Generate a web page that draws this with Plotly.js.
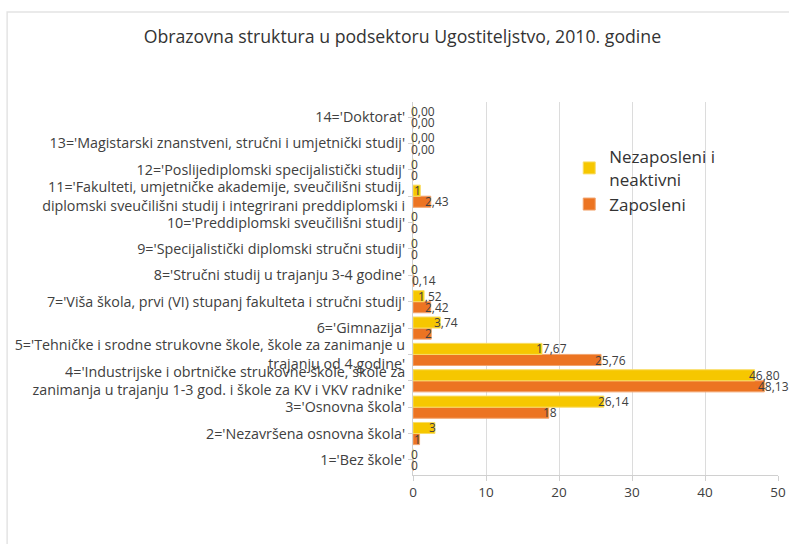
<!DOCTYPE html>
<html>
<head>
<meta charset="utf-8">
<script src="https://cdn.plot.ly/plotly-3.0.1.min.js"></script>
<style>html,body{margin:0;padding:0;background:#fff;}#chart{width:789px;height:544px;}</style>
</head>
<body>
<div id="chart"></div>
<script>
const categories = [
  "1='Bez škole'",
  "2='Nezavršena osnovna škola'",
  "3='Osnovna škola'",
  "4='Industrijske i obrtničke strukovne škole, škole za<br>zanimanja u trajanju 1-3 god. i škole za KV i VKV radnike'",
  "5='Tehničke i srodne strukovne škole, škole za zanimanje u<br>trajanju od 4 godine'",
  "6='Gimnazija'",
  "7='Viša škola, prvi (VI) stupanj fakulteta i stručni studij'",
  "8='Stručni studij u trajanju 3-4 godine'",
  "9='Specijalistički diplomski stručni studij'",
  "10='Preddiplomski sveučilišni studij'",
  "11='Fakulteti, umjetničke akademije, sveučilišni studij,<br>diplomski sveučilišni studij i integrirani preddiplomski i",
  "12='Poslijediplomski specijalistički studij'",
  "13='Magistarski znanstveni, stručni i umjetnički studij'",
  "14='Doktorat'"
];
const nezaposleni = [0, 3, 26.14, 46.80, 17.67, 3.74, 1.52, 0, 0, 0, 1, 0, 0, 0];
const nezaposleniLabels = ["0", "3", "26,14", "46,80", "17,67", "3,74", "1,52", "0", "0", "0", "1", "0", "0,00", "0,00"];
const zaposleni = [0, 0.9, 18.6, 48.13, 25.76, 2.5, 2.42, 0.14, 0, 0, 2.43, 0, 0, 0];
const zaposleniLabels = ["0", "1", "18", "48,13", "25,76", "2", "2,42", "0,14", "0", "0", "2,43", "0", "0,00", "0,00"];
const xTicks = [0, 10, 20, 30, 40, 50];

const tickFont = {family: "Open Sans, sans-serif", size: 14.3, color: "#404040"};
const valueFont = {family: "Open Sans, sans-serif", size: 12, color: "#404040"};

const traces = [
  {
    type: "bar", orientation: "h", name: "Zaposleni",
    y: categories, x: zaposleni,
    marker: {color: "#EC7422", line: {color: "#F2A46E", width: 1}},
    hoverinfo: "none"
  },
  {
    type: "bar", orientation: "h", name: "Nezaposleni i<br>neaktivni",
    y: categories, x: nezaposleni,
    marker: {color: "#F6C700", line: {color: "#F9DD66", width: 1}},
    hoverinfo: "none"
  }
];

// value labels placed at the end of each bar (in data coordinates)
const annotations = [];
function addLabels(values, labels, yshift) {
  values.forEach((v, i) => {
    annotations.push({
      x: v, y: categories[i], xref: "x", yref: "y",
      text: labels[i], showarrow: false,
      xanchor: "left", yanchor: "middle",
      xshift: v > 0.5 ? -7 : -3, yshift: yshift,
      font: valueFont, borderpad: 0
    });
  });
}
addLabels(nezaposleni, nezaposleniLabels, 5.6);
addLabels(zaposleni, zaposleniLabels, -5.6);

const layout = {
  width: 789, height: 544,
  margin: {l: 413, r: 11, t: 102, b: 69},
  paper_bgcolor: "#ffffff", plot_bgcolor: "#ffffff",
  barmode: "group", bargap: 0.16, bargroupgap: 0,
  showlegend: true,
  title: {
    text: "Obrazovna struktura u podsektoru Ugostiteljstvo, 2010. godine",
    font: {family: "Open Sans, sans-serif", size: 17.7, color: "#333333"},
    x: 0.51, xanchor: "center", y: 0.933, yanchor: "middle"
  },
  xaxis: {
    range: [0, 50], tickvals: xTicks, ticktext: xTicks.map(String),
    showgrid: true, gridcolor: "#dcdcdc", gridwidth: 1,
    zeroline: false, showline: true, linecolor: "#d0d0d0",
    ticks: "outside", ticklen: 5, tickcolor: "#d0d0d0",
    tickfont: {family: "Open Sans, sans-serif", size: 13.5, color: "#404040"},
    fixedrange: true
  },
  yaxis: {
    type: "category", categoryorder: "array", categoryarray: categories,
    showgrid: false, zeroline: false, showline: true, linecolor: "#d0d0d0",
    ticks: "outside", ticklen: 4, tickcolor: "#d0d0d0",
    tickfont: tickFont, automargin: false, fixedrange: true
  },
  legend: {
    x: 0.428, y: 0.9, xanchor: "left", yanchor: "top",
    traceorder: "reversed",
    font: {family: "Open Sans, sans-serif", size: 17, color: "#333333"},
    bgcolor: "rgba(255,255,255,0)", itemwidth: 30, tracegroupgap: 6
  },
  annotations: annotations,
  shapes: [
    {type: "rect", xref: "paper", yref: "paper", layer: "below",
     x0: -1.112, x1: 2, y0: -1, y1: 1.241,
     line: {color: "#e4e4e4", width: 1.5}}
  ]
};

Plotly.newPlot("chart", traces, layout, {displayModeBar: false, staticPlot: true});
</script>
</body>
</html>
